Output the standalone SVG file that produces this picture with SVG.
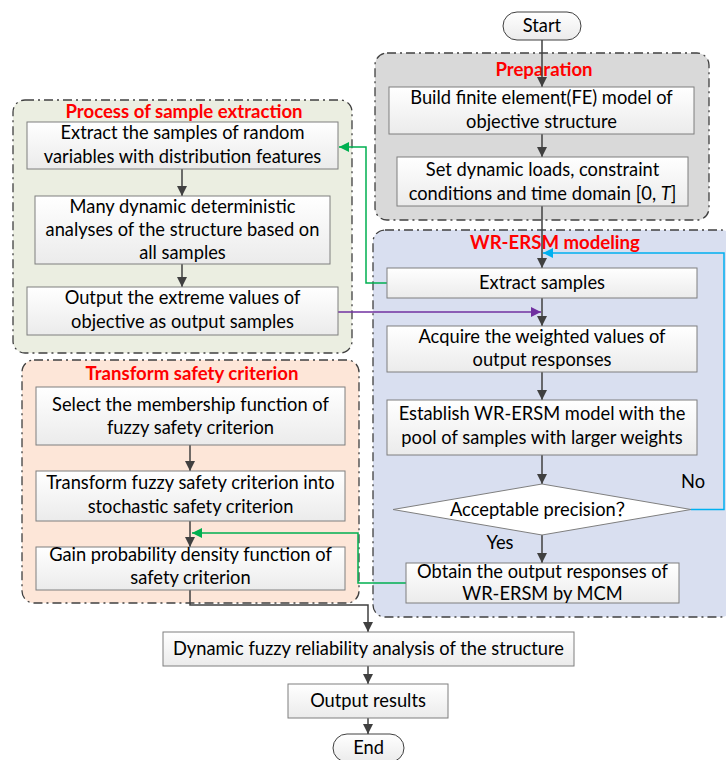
<svg xmlns="http://www.w3.org/2000/svg" width="726" height="760" viewBox="0 0 726 760">
<style>
text{font-family:Lato,"Liberation Sans","Noto Sans CJK SC",sans-serif;font-size:18.3px;fill:#000;text-anchor:middle}
.title{font-weight:bold;fill:#ff0000;font-size:18.6px}
.box{fill:url(#bg);stroke:#7f7f7f;stroke-width:1}
.grp{stroke:#404040;stroke-width:1.3;stroke-dasharray:9 4 2 4}
.ln{fill:none;stroke:#404040;stroke-width:1.5}
.g{fill:none;stroke:#00b050;stroke-width:1.5}
.b{fill:none;stroke:#00b0f0;stroke-width:1.5}
.p{fill:none;stroke:#7030a0;stroke-width:1.5}
</style>
<defs>
<linearGradient id="bg" x1="0" y1="0" x2="0" y2="1"><stop offset="0" stop-color="#ffffff"/><stop offset="1" stop-color="#ebebeb"/></linearGradient>
<marker id="ad" markerUnits="userSpaceOnUse" markerWidth="11" markerHeight="11" refX="10" refY="5" orient="auto"><path d="M0,0 L10,5 L0,10 z" fill="#404040"/></marker>
<marker id="ag" markerUnits="userSpaceOnUse" markerWidth="11" markerHeight="11" refX="10" refY="5" orient="auto"><path d="M0,0 L10,5 L0,10 z" fill="#00b050"/></marker>
<marker id="ab" markerUnits="userSpaceOnUse" markerWidth="11" markerHeight="11" refX="10" refY="5" orient="auto"><path d="M0,0 L10,5 L0,10 z" fill="#00b0f0"/></marker>
<marker id="ap" markerUnits="userSpaceOnUse" markerWidth="11" markerHeight="11" refX="10" refY="5" orient="auto"><path d="M0,0 L10,5 L0,10 z" fill="#7030a0"/></marker>
</defs>
<rect width="726" height="760" fill="#ffffff"/>

<g id="groups">
<rect id="grp-prep" class="grp" x="375" y="53" width="334" height="167" rx="12" fill="#d9d9d9"/>
<rect id="grp-wr" class="grp" x="373" y="230" width="360" height="387" rx="12" fill="#d9dff0"/>
<rect id="grp-proc" class="grp" x="13" y="100" width="339" height="253" rx="12" fill="#ebeee1"/>
<rect id="grp-trans" class="grp" x="22" y="360" width="337" height="243" rx="12" fill="#fde6d8"/>
<text class="title" x="544" y="76">Preparation</text>
<text class="title" x="555" y="249">WR-ERSM modeling</text>
<text class="title" x="184" y="118">Process of sample extraction</text>
<text class="title" x="192" y="380">Transform safety criterion</text>
</g>

<g id="connectors">
<line class="ln" x1="542" y1="40" x2="542" y2="87" marker-end="url(#ad)"/>
<line class="ln" x1="542" y1="134" x2="542" y2="157" marker-end="url(#ad)"/>
<line class="ln" x1="542" y1="206" x2="542" y2="268" marker-end="url(#ad)"/>
<line class="ln" x1="542" y1="298" x2="542" y2="326" marker-end="url(#ad)"/>
<line class="ln" x1="542" y1="372" x2="542" y2="400" marker-end="url(#ad)"/>
<line class="ln" x1="542" y1="455" x2="542" y2="484" marker-end="url(#ad)"/>
<line class="ln" x1="542" y1="535" x2="542" y2="563" marker-end="url(#ad)"/>
<line class="ln" x1="182" y1="169" x2="182" y2="196" marker-end="url(#ad)"/>
<line class="ln" x1="182" y1="264" x2="182" y2="287" marker-end="url(#ad)"/>
<line class="ln" x1="190" y1="445" x2="190" y2="471" marker-end="url(#ad)"/>
<line class="ln" x1="190" y1="521" x2="190" y2="547" marker-end="url(#ad)"/>
<polyline class="ln" points="190,590 190,605 368,605 368,632" marker-end="url(#ad)"/>
<line class="ln" x1="368" y1="666" x2="368" y2="684" marker-end="url(#ad)"/>
<line class="ln" x1="368" y1="718" x2="368" y2="734" marker-end="url(#ad)"/>
<polyline class="g" points="387,283 366,283 366,147 339,147" marker-end="url(#ag)"/>
<polyline class="g" points="406,583 358,583 358,533 192,533" marker-end="url(#ag)"/>
<polyline class="p" points="338,312 541,312" marker-end="url(#ap)"/>
<polyline class="b" points="691,509.5 724,509.5 724,253 543,253" marker-end="url(#ab)"/>
</g>

<g id="start"><rect x="503" y="12" width="78" height="28" rx="14" fill="url(#bg)" stroke="#404040"/><text x="542" y="32">Start</text></g>
<g id="fe"><rect class="box" x="389" y="87" width="305" height="47"/><text x="541.5" y="104">Build finite element(FE) model of</text><text x="541.5" y="128">objective structure</text></g>
<g id="loads"><rect class="box" x="397" y="157" width="291" height="49"/><text x="542.5" y="176">Set dynamic loads, constraint</text><text x="542.5" y="200">conditions and time domain [0, <tspan font-style="italic">T</tspan>]</text></g>
<g id="extract"><rect class="box" x="387" y="268" width="310" height="30"/><text x="542" y="289">Extract samples</text></g>
<g id="acquire"><rect class="box" x="387" y="326" width="310" height="46"/><text x="542" y="343">Acquire the weighted values of</text><text x="542" y="366">output responses</text></g>
<g id="establish"><rect class="box" x="387" y="400" width="310" height="55"/><text x="542" y="420">Establish WR-ERSM model with the</text><text x="542" y="444">pool of samples with larger weights</text></g>
<g id="decision"><polygon points="393,509.5 542,484 691,509.5 542,535" fill="#ffffff" stroke="#7f7f7f"/><text x="542" y="516">Acceptable precision？</text></g>
<text x="693" y="488">No</text>
<text x="500" y="549">Yes</text>
<g id="obtain"><rect class="box" x="406" y="563" width="273" height="40"/><text x="542.5" y="578">Obtain the output responses of</text><text x="542.5" y="600">WR-ERSM by MCM</text></g>
<g id="e1"><rect class="box" x="27" y="122" width="311" height="47"/><text x="182.5" y="139">Extract the samples of random</text><text x="182.5" y="163">variables with distribution features</text></g>
<g id="e2"><rect class="box" x="35" y="196" width="295" height="68"/><text x="182.5" y="213">Many dynamic deterministic</text><text x="182.5" y="236">analyses of the structure based on</text><text x="182.5" y="259">all samples</text></g>
<g id="e3"><rect class="box" x="27" y="287" width="311" height="48"/><text x="182.5" y="304">Output the extreme values of</text><text x="182.5" y="328">objective as output samples</text></g>
<g id="t1"><rect class="box" x="36" y="387" width="309" height="58"/><text x="190.5" y="411">Select the membership function of</text><text x="190.5" y="434">fuzzy safety criterion</text></g>
<g id="t2"><rect class="box" x="36" y="471" width="309" height="50"/><text x="190.5" y="489">Transform fuzzy safety criterion into</text><text x="190.5" y="513">stochastic safety criterion</text></g>
<g id="t3"><rect class="box" x="36" y="547" width="309" height="43"/><text x="190.5" y="561">Gain probability density function of</text><text x="190.5" y="584">safety criterion</text></g>
<g id="dyn"><rect class="box" x="163" y="632" width="411" height="34"/><text x="368.5" y="655">Dynamic fuzzy reliability analysis of the structure</text></g>
<g id="out"><rect class="box" x="288" y="684" width="160" height="34"/><text x="368" y="707">Output results</text></g>
<g id="end"><rect x="333" y="734" width="71" height="28" rx="14" fill="url(#bg)" stroke="#404040"/><text x="368.5" y="754">End</text></g>
</svg>
